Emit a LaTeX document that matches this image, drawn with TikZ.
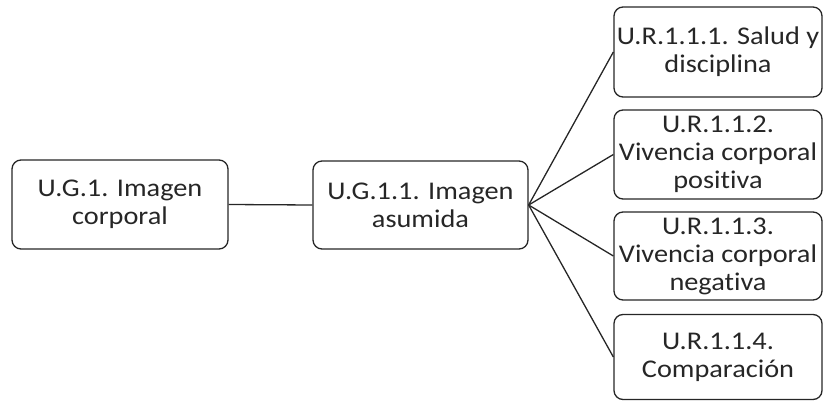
\documentclass[tikz,border=0pt]{standalone}
\usepackage{fontspec}
\setmainfont[Ligatures=NoCommon, FakeStretch=1.11]{Carlito}
\begin{document}
\begin{tikzpicture}[x=1pt,y=-1pt,
  box/.style={draw=black!85, rounded corners=9pt, line width=1.3pt, align=center,
    font=\fontsize{25.5}{28}\selectfont, text=black!85, inner sep=0pt},
  link/.style={draw=black!85, line width=1.3pt}]
\useasboundingbox (0,0) rectangle (824,401);
\node[box, minimum width=216pt, minimum height=89pt] (a) at (120,204.5) {U.G.1. Imagen\\corporal};
\node[box, minimum width=215pt, minimum height=88pt] (b) at (420.5,205) {U.G.1.1. Imagen\\asumida};
\node[box, minimum width=208pt, minimum height=90pt] (r1) at (718,52) {U.R.1.1.1. Salud y\\disciplina};
\node[box, minimum width=208pt, minimum height=89pt] (r2) at (718,154.5) {U.R.1.1.2.\\Vivencia corporal\\positiva};
\node[box, minimum width=208pt, minimum height=88pt] (r3) at (718,256) {U.R.1.1.3.\\Vivencia corporal\\negativa};
\node[box, minimum width=208pt, minimum height=85pt] (r4) at (718,357) {U.R.1.1.4.\\Comparación};
\draw[link] (a.east) -- (b.west);
\draw[link] (b.east) -- (r1.west);
\draw[link] (b.east) -- (r2.west);
\draw[link] (b.east) -- (r3.west);
\draw[link] (b.east) -- (r4.west);
\end{tikzpicture}
\end{document}
